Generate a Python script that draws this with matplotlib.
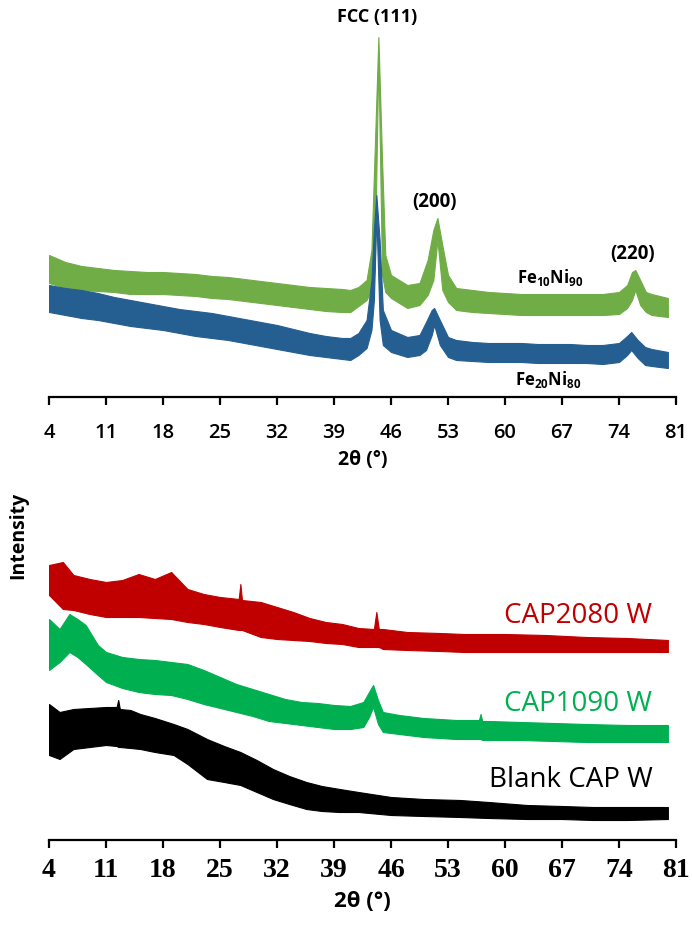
import matplotlib
matplotlib.use('Agg')
import matplotlib.pyplot as plt

plt.rcParams['font.family'] = ['Open Sans', 'DejaVu Sans']
plt.rcParams['mathtext.fontset'] = 'custom'
plt.rcParams['mathtext.rm'] = 'Open Sans'
plt.rcParams['mathtext.bf'] = 'Open Sans:bold'

# ---------------- data ----------------
x_ticks = [4, 11, 18, 25, 32, 39, 46, 53, 60, 67, 74, 81]
x_ticklabels = [str(v) for v in x_ticks]

# Top panel: Fe10Ni90 (noisy trace: upper / lower envelope, a.u.)
fe10_x = [4, 6, 8, 10, 12, 14, 16, 18, 20, 22, 24, 26, 28, 30, 32, 34, 36, 38, 40, 41,
          42, 43, 43.6, 44.0, 44.45, 44.9, 45.3, 46, 48, 49.5, 50.5, 51.2, 51.7, 52.3, 53, 54,
          56, 58, 60, 62, 64, 66, 68, 70, 72, 74, 75, 75.6, 76.0, 76.6, 77.3, 78, 80]
fe10_hi = [142, 135, 131, 129, 127, 126, 125, 125, 124, 123, 121, 120, 118, 116, 114, 112, 110, 109, 108, 107,
           110, 117, 147, 247, 360, 237, 142, 122, 112, 114, 137, 167, 179, 152, 122, 109, 107, 105, 104, 103,
           103, 103, 103, 103, 103, 105, 112, 125, 127, 117, 105, 103, 99]
fe10_lo = [114, 109, 107, 106, 105, 103, 103, 103, 102, 101, 99, 98, 96, 94, 92, 90, 88, 86, 85, 85,
           91, 97, 107, 127, 340, 122, 105, 99, 89, 92, 102, 117, 157, 107, 95, 87, 85, 84, 83, 82,
           82, 82, 82, 82, 82, 83, 89, 97, 107, 92, 85, 82, 80]

# Top panel: Fe20Ni80
fe20_x = [4, 6, 8, 10, 12, 14, 16, 18, 20, 22, 24, 26, 28, 30, 32, 34, 36, 38, 40, 41,
          42, 43, 43.6, 43.9, 44.2, 44.6, 45.0, 46, 48, 49.5, 50.3, 51.0, 51.3, 52.0, 53, 54,
          56, 58, 60, 62, 64, 66, 68, 70, 72, 74, 75, 75.5, 76.3, 77.2, 78, 80]
fe20_hi = [112, 109, 107, 104, 100, 97, 94, 91, 88, 86, 84, 81, 78, 75, 72, 68, 64, 61, 59, 59,
           64, 77, 117, 167, 202, 157, 87, 67, 60, 62, 75, 87, 89, 77, 60, 57, 55, 54, 54, 54,
           53, 53, 53, 52, 52, 54, 61, 65, 57, 50, 48, 45]
fe20_lo = [85, 82, 79, 77, 74, 71, 69, 67, 64, 61, 59, 57, 54, 51, 48, 45, 42, 40, 38, 37,
           42, 49, 67, 97, 182, 77, 52, 45, 40, 42, 47, 62, 72, 52, 40, 37, 36, 35, 35, 35,
           34, 34, 34, 34, 33, 35, 42, 47, 39, 32, 31, 29]

# Bottom panel: CAP2080 W
cap2080_x = [4, 5.7, 7, 9, 11, 13, 15, 17, 19, 21, 23, 25, 27.3, 27.5, 27.7, 30, 32, 34, 36, 38,
             40, 42, 43.9, 44.2, 44.5, 45, 48, 52, 55, 60, 65, 70, 75, 80]
cap2080_hi = [275, 278, 265, 261, 258, 260, 266, 261, 268, 251, 246, 243, 241, 256, 240, 238, 233, 228, 222, 218,
              216, 212, 211, 228, 211, 211, 208, 207, 206, 206, 205, 203, 202, 200]
cap2080_lo = [245, 231, 230, 226, 223, 223, 223, 222, 221, 218, 216, 213, 210, 210, 210, 203, 201, 200, 199, 197,
              196, 193, 193, 193, 193, 191, 190, 189, 188, 188, 188, 188, 188, 188]

# Bottom panel: CAP1090 W
cap1090_x = [4, 5.3, 6.5, 7.5, 8.5, 10, 11, 13, 15, 17, 19, 21, 23, 25, 27, 29, 31, 33, 35, 37,
             39, 41, 42.6, 43.3, 43.8, 44.4, 45, 47, 50, 54, 56.8, 57, 57.2, 58, 62, 66, 70, 75, 80]
cap1090_hi = [221, 211, 226, 221, 215, 195, 188, 183, 181, 180, 178, 176, 170, 163, 156, 151, 146, 141, 138, 137,
              135, 134, 138, 148, 155, 140, 128, 125, 122, 120, 120, 126, 119, 119, 118, 117, 116, 115, 115]
cap1090_lo = [170, 178, 188, 183, 176, 165, 158, 152, 148, 146, 145, 141, 136, 132, 128, 124, 119, 117, 115, 113,
              111, 111, 113, 123, 133, 116, 108, 106, 103, 101, 101, 101, 100, 100, 100, 99, 98, 98, 98]

# Bottom panel: Blank CAP W
blank_x = [4, 5.3, 7, 9, 11, 12.3, 12.5, 12.7, 14, 15.2, 17, 19.3, 21, 23.4, 25.5, 27.5, 29.5, 31.5, 33.5, 35.6,
           37.5, 39.7, 42, 46, 50, 54.5, 58, 62.7, 67, 70.8, 75, 80]
blank_hi = [136, 128, 131, 132, 133, 133, 140, 131, 130, 126, 122, 116, 111, 101, 94, 88, 80, 71, 64, 58,
            54, 51, 48, 43, 41, 40, 38, 35, 34, 33, 33, 33]
blank_lo = [85, 81, 91, 93, 95, 94, 93, 93, 92, 91, 88, 85, 76, 61, 58, 55, 48, 41, 36, 31,
            29, 28, 28, 25, 24, 23, 22, 21, 21, 20, 20, 21]

# ---------------- figure ----------------
W, H = 692, 934
fig = plt.figure(figsize=(W / 100, H / 100), dpi=100)

def px_axes(left, top, right, bottom):
    return fig.add_axes([left / W, 1 - bottom / H, (right - left) / W, (bottom - top) / H])

ax1 = px_axes(49, 10, 676, 397)
ax2 = px_axes(49, 490, 676, 840)

def style(ax, ymax, tick_font, pad):
    ax.set_xlim(4, 81)
    ax.set_ylim(0, ymax)
    for s in ('left', 'right', 'top'):
        ax.spines[s].set_visible(False)
    ax.spines['bottom'].set_linewidth(1.6)
    ax.set_yticks([])
    ax.set_xticks(x_ticks)
    ax.set_xticklabels(x_ticklabels, **tick_font)
    ax.tick_params(axis='x', direction='out', length=6, width=1.6, pad=pad)
    ax.patch.set_alpha(0)

style(ax1, 387, dict(fontsize=14.5, family='Open Sans', fontweight='semibold'), 13)
style(ax2, 350, dict(fontsize=20, family='Liberation Serif', fontweight='bold'), 7)

def trace(ax, x, hi, lo, color):
    ax.fill_between(x, lo, hi, color=color, linewidth=0.8, edgecolor=color)

trace(ax1, fe10_x, fe10_hi, fe10_lo, '#70AD47')
trace(ax1, fe20_x, fe20_hi, fe20_lo, '#255E91')

trace(ax2, cap2080_x, cap2080_hi, cap2080_lo, '#C00000')
trace(ax2, cap1090_x, cap1090_hi, cap1090_lo, '#00B050')
trace(ax2, blank_x, blank_hi, blank_lo, '#000000')

# annotations top
ax1.text(44.3, 380, 'FCC (111)', ha='center', va='center', fontsize=13, fontweight='bold')
ax1.text(51.4, 195, '(200)', ha='center', va='center', fontsize=13.5, fontweight='bold')
ax1.text(75.7, 143, '(220)', ha='center', va='center', fontsize=13.5, fontweight='bold')
ax1.text(65.5, 120, r'$\mathbf{Fe_{10}Ni_{90}}$', ha='center', va='center', fontsize=12)
ax1.text(65.3, 18, r'$\mathbf{Fe_{20}Ni_{80}}$', ha='center', va='center', fontsize=12)

ax1.set_xlabel('2θ (°)', fontsize=14, fontweight='bold', labelpad=5)
ax2.set_xlabel('2θ (°)', fontsize=16, fontweight='bold', labelpad=6)

# annotations bottom
ax2.text(78.1, 224, 'CAP2080 W', ha='right', va='center', fontsize=20, color='#C00000')
ax2.text(78.1, 136, 'CAP1090 W', ha='right', va='center', fontsize=20, color='#00B050')
ax2.text(78.1, 60, 'Blank CAP W', ha='right', va='center', fontsize=20, color='#000000')

fig.text(18 / W, 1 - 535 / H, 'Intensity', rotation=90, ha='center', va='center',
         fontsize=14, fontweight='bold')

fig.savefig('out.png', dpi=100)
